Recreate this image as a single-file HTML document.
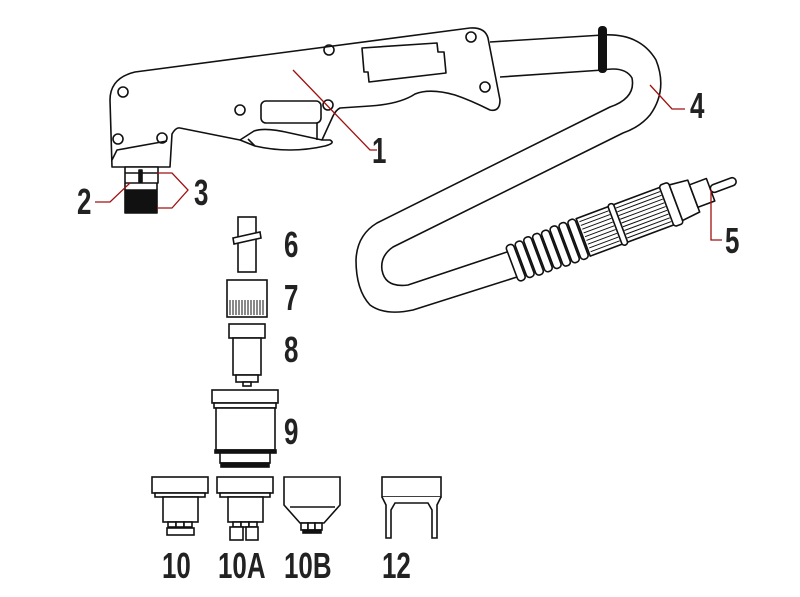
<!DOCTYPE html>
<html><head><meta charset="utf-8"><style>
html,body{margin:0;padding:0;background:#fff}
svg{display:block}
.n{font-family:"Liberation Sans",sans-serif;font-weight:bold;font-size:36px;fill:#222}
</style></head><body>
<svg width="800" height="597" viewBox="0 0 800 597" xmlns="http://www.w3.org/2000/svg">
<g fill="none" stroke="#111" stroke-width="1.6" stroke-linejoin="round">
<!-- torch body -->
<path d="M112,167 L110,100 Q110,78 135,72 L470,28 Q485,27 488,38 L500,100 Q500,112 490,110 Q470,100 455,95 Q430,88 415,94 Q400,104 370,106 L340,108 Q336,110 333,116 L322,140 L330,140 Q336,143 325,146 Q290,154 255,146 L240,140 L180,128 Q176,127 172,134 L170,167 Z"/>
<path d="M112,160 L117,150 L167,141"/>
<path d="M240,140 L254,131 Q265,127 290,133 L322,140"/>
<path d="M255,146 L248,139"/>
<rect x="261" y="101" width="60" height="22" rx="5"/>
<path d="M317,123 L317,140"/>
<path d="M362,48 L437,43 L438,52 L444,52 L446,73 L369,82 L368,72 L364,72 Z"/>
<circle cx="123" cy="92" r="5"/><circle cx="118" cy="139" r="5"/><circle cx="162" cy="138" r="5"/>
<circle cx="240" cy="110" r="5"/><circle cx="328" cy="105" r="5"/><circle cx="329" cy="50" r="5"/>
<circle cx="471" cy="37" r="5"/><circle cx="485" cy="87" r="5"/>
<!-- nozzle under head -->
<rect x="125" y="167" width="33" height="16" fill="#fff"/>
<path d="M125,173 L158,173"/>
<rect x="139" y="170" width="3" height="12" fill="#111"/>
<rect x="125" y="190" width="32" height="23" fill="#111"/>
<path d="M125,183 L125,190 M157,183 L157,190"/>
<!-- hose -->
<path d="M490,42 L603,35 Q640,33 656,60 Q668,90 650,115 Q640,127 623,133 L393,247 Q380,256 382,270 Q385,288 408,285 L513,250"/>
<path d="M500,77 L603,70 Q625,66 632,78 Q636,98 610,107 L377,223 Q357,235 356,260 Q356,290 370,305 Q385,316 413,310 L517,277"/>
<rect x="598" y="26" width="9" height="47" rx="4" fill="#111" stroke="none"/>
<!-- connector -->
<g transform="translate(512,264) rotate(-20.5)">
<g fill="#fff">
<rect x="0" y="-19" width="8" height="38" rx="3.5"/>
<rect x="9.5" y="-19" width="8" height="38" rx="3.5"/>
<rect x="19" y="-20" width="8" height="40" rx="3.5"/>
<rect x="28.5" y="-20" width="8" height="40" rx="3.5"/>
<rect x="38" y="-20" width="8" height="40" rx="3.5"/>
<rect x="47.5" y="-21" width="8" height="42" rx="3.5"/>
<rect x="57" y="-21" width="8" height="42" rx="3.5"/>
<rect x="66.5" y="-21" width="8" height="42" rx="3.5"/>
<rect x="76" y="-20" width="94" height="40"/>
<rect x="110" y="-22" width="6" height="44" rx="3"/>
<rect x="165" y="-22" width="10" height="44" rx="3"/>
<path d="M175,-19 L194,-17 L194,17 L175,19 Z"/>
<rect x="194" y="-12" width="18" height="24"/>
<rect x="212" y="-4" width="27" height="8" rx="4"/>
</g>
<path d="M78,-16H109M78,-12H109M78,-8H109M78,-4H109M78,0H109M78,4H109M78,8H109M78,12H109M78,16H109M117,-16H164M117,-12H164M117,-8H164M117,-4H164M117,0H164M117,4H164M117,8H164M117,12H164M117,16H164" stroke-width="1"/>
</g>
</g>
<!-- parts -->
<g fill="#fff" stroke="#111" stroke-width="1.6">
<rect x="238" y="217" width="18" height="55"/>
<path d="M233,238 L260,232 L261,238 L234,244 Z"/>
<rect x="227" y="280" width="40" height="37"/>
<path d="M230,300V315M233,300V315M236,300V315M239,300V315M242,300V315M245,300V315M248,300V315M251,300V315M254,300V315M257,300V315M260,300V315M263,300V315" stroke-width="1"/>
<rect x="229" y="324" width="36" height="14"/>
<rect x="233" y="338" width="28" height="37"/>
<rect x="236" y="375" width="22" height="7"/>
<rect x="243" y="382" width="8" height="4"/>
<rect x="212" y="390" width="66" height="13"/>
<rect x="214" y="403" width="62" height="5"/>
<rect x="216" y="408" width="59" height="42"/>
<rect x="215" y="450" width="61" height="3" fill="#111"/>
<rect x="220" y="453" width="50" height="10"/>
<rect x="221" y="463" width="48" height="4" fill="#111"/>
<rect x="152" y="477" width="56" height="16"/>
<rect x="155" y="493" width="50" height="4"/>
<rect x="163" y="497" width="35" height="25"/>
<rect x="168" y="522" width="8" height="5"/><rect x="176" y="522" width="8" height="5"/><rect x="184" y="522" width="8" height="5"/>
<rect x="167" y="528" width="27" height="7"/>
<rect x="217" y="477" width="56" height="16"/>
<rect x="220" y="493" width="50" height="4"/>
<rect x="228" y="497" width="35" height="25"/>
<rect x="233" y="522" width="8" height="5"/><rect x="241" y="522" width="8" height="5"/><rect x="249" y="522" width="8" height="5"/>
<rect x="230" y="527" width="13" height="13"/><rect x="246" y="527" width="12" height="13"/>
<path d="M284,477 H340 V505 L324,523 H300 L284,505 Z"/>
<path d="M290,507 H335"/>
<rect x="301" y="523" width="7" height="7"/><rect x="308" y="523" width="7" height="7"/><rect x="315" y="523" width="7" height="7"/>
<rect x="303" y="530" width="18" height="3" fill="#111"/>
<rect x="382" y="477" width="59" height="20"/>
<path d="M382,497 L386,505 L386,538 L391,538 L391,510 L395,503 H428 L432,510 L432,538 L437,538 L437,505 L441,497"/>
</g>
<!-- leaders -->
<g fill="none" stroke="#a01010" stroke-width="1.3">
<path d="M293,70 L370,150 H377"/>
<path d="M650,85 L672,109 H685"/>
<path d="M711,190 V240 H722"/>
<path d="M130,183 L110,202 H95"/>
<path d="M157,173 H172 L188,190 L172,208 H157"/>
</g>
<g class="n">
<text x="372" y="163" transform="translate(372 0) scale(0.72 1) translate(-372 0)">1</text>
<text x="77" y="214" transform="translate(77 0) scale(0.72 1) translate(-77 0)">2</text>
<text x="194" y="205" transform="translate(194 0) scale(0.72 1) translate(-194 0)">3</text>
<text x="690" y="118" transform="translate(690 0) scale(0.72 1) translate(-690 0)">4</text>
<text x="725" y="253" transform="translate(725 0) scale(0.72 1) translate(-725 0)">5</text>
<text x="284" y="257" transform="translate(284 0) scale(0.72 1) translate(-284 0)">6</text>
<text x="284" y="310" transform="translate(284 0) scale(0.72 1) translate(-284 0)">7</text>
<text x="284" y="362" transform="translate(284 0) scale(0.72 1) translate(-284 0)">8</text>
<text x="284" y="444" transform="translate(284 0) scale(0.72 1) translate(-284 0)">9</text>
<text x="162" y="578" transform="translate(162 0) scale(0.72 1) translate(-162 0)">10</text>
<text x="218" y="578" transform="translate(218 0) scale(0.72 1) translate(-218 0)">10A</text>
<text x="284" y="578" transform="translate(284 0) scale(0.72 1) translate(-284 0)">10B</text>
<text x="382" y="578" transform="translate(382 0) scale(0.72 1) translate(-382 0)">12</text>
</g>
</svg>
</body></html>
